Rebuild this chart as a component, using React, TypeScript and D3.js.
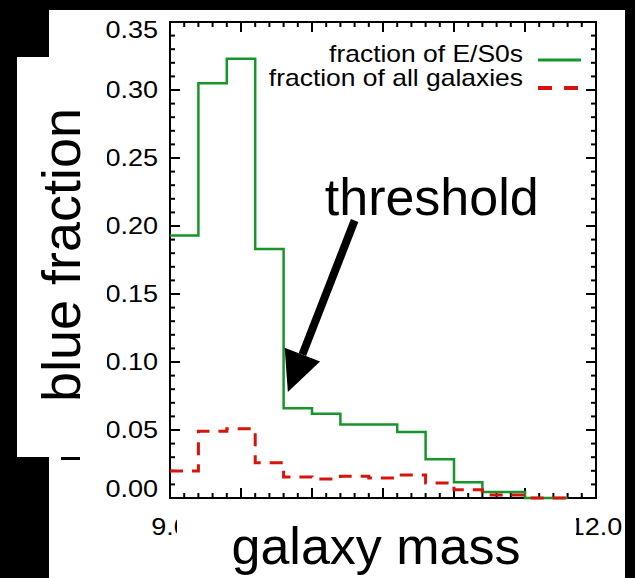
import * as d3 from 'd3';

// bin edges along galaxy mass (log M) and the two blue fractions per bin
const massEdges = [9.0, 9.2, 9.4, 9.6, 9.8, 10.0, 10.2, 10.4, 10.6, 10.8, 11.0, 11.2, 11.5, 11.8];
const esoFraction = [0.193, 0.305, 0.323, 0.183, 0.066, 0.062, 0.054, 0.054, 0.0485, 0.0285, 0.0115, 0.0045, 0];
const allFraction = [0.0199, 0.049, 0.051, 0.026, 0.0155, 0.014, 0.016, 0.0147, 0.017, 0.011, 0.006, 0.0022, 0];

const yTickValues = [0, 0.05, 0.1, 0.15, 0.2, 0.25, 0.3, 0.35];
// only the end labels survive under the "galaxy mass" box
const xTickLabels = [9.0, 12.0];
const legendLabels = ['fraction of E/S0s', 'fraction of all galaxies'];

// annotation: arrow from under "threshold" down to the drop at ~9.8
const arrowTail = { x: 10.3, y: 0.204 };
const arrowTip = { x: 9.83, y: 0.078 };
const annotationText = { x: 10.09, y: 0.208, label: 'threshold' };

const width = 635;
const height = 578;
const plot = { left: 170, right: 596, top: 22, bottom: 498 };

const GREEN = '#17952b';
const RED = '#d5140c';
const FONT = '"Liberation Sans", Arial, Helvetica, sans-serif';

type Pt = [number, number];

const stepPoints = (vals: number[]): Pt[] => {
  const pts: Pt[] = vals.map((v, i) => [massEdges[i], v]);
  pts.push([massEdges[massEdges.length - 1], vals[vals.length - 1]]);
  return pts;
};

export default function App() {
  const x = d3.scaleLinear().domain([9, 12]).range([plot.left, plot.right]);
  const y = d3.scaleLinear().domain([0, 0.35]).range([plot.bottom, plot.top]);

  const line = d3
    .line<Pt>()
    .x((d) => x(d[0]))
    .y((d) => y(d[1]))
    .curve(d3.curveStepAfter);

  const yMinor = d3.range(0, 0.3501, 0.01);
  const xMinor = d3.range(9, 12.001, 0.1);

  // arrow geometry
  const tx = x(arrowTail.x);
  const ty = y(arrowTail.y);
  const hx = x(arrowTip.x);
  const hy = y(arrowTip.y);
  const len = Math.hypot(hx - tx, hy - ty);
  const ux = (hx - tx) / len;
  const uy = (hy - ty) / len;
  const headLen = 40;
  const headHalf = 19;
  const bx = hx - ux * headLen;
  const by = hy - uy * headLen;
  const head = [
    [hx, hy],
    [bx - uy * headHalf, by + ux * headHalf],
    [bx + uy * headHalf, by - ux * headHalf],
  ]
    .map((p) => p.join(','))
    .join(' ');

  const stretch = 1.15;

  return (
    <svg
      width={width}
      height={height}
      style={{ position: 'absolute', left: 0, top: 0, display: 'block' }}
      fontFamily={FONT}
    >
      <rect width={width} height={height} fill="#000" />
      <rect x={49} y={10} width={576} height={height - 10} fill="#fff" />

      {/* axes frame and ticks */}
      <g stroke="#000" strokeWidth={2}>
        <rect
          x={plot.left}
          y={plot.top}
          width={plot.right - plot.left}
          height={plot.bottom - plot.top}
          fill="none"
        />
        {yMinor.map((v, i) => {
          const l = i % 5 === 0 ? 10 : 5;
          return (
            <g key={`y${i}`}>
              <line x1={plot.left} x2={plot.left + l} y1={y(v)} y2={y(v)} />
              <line x1={plot.right} x2={plot.right - l} y1={y(v)} y2={y(v)} />
            </g>
          );
        })}
        {xMinor.map((v, i) => {
          const l = i % 5 === 0 ? 10 : 5;
          return (
            <g key={`x${i}`}>
              <line x1={x(v)} x2={x(v)} y1={plot.bottom} y2={plot.bottom - l} />
              <line x1={x(v)} x2={x(v)} y1={plot.top} y2={plot.top + l} />
            </g>
          );
        })}
      </g>

      {/* y tick labels */}
      {yTickValues.map((v) => {
        const cy = Math.min(Math.max(y(v), plot.top + 8), plot.bottom - 9);
        return (
          <text
            key={v}
            transform={`translate(158,${cy}) scale(${stretch},1)`}
            textAnchor="end"
            dominantBaseline="central"
            fontSize={23.5}
          >
            {v.toFixed(2)}
          </text>
        );
      })}

      {/* x tick labels */}
      {xTickLabels.map((v) => (
        <text
          key={v}
          transform={`translate(${x(v)},535) scale(${stretch},1)`}
          textAnchor="middle"
          fontSize={23.5}
        >
          {v.toFixed(1)}
        </text>
      ))}

      {/* histograms */}
      <path d={line(stepPoints(esoFraction)) || ''} fill="none" stroke={GREEN} strokeWidth={2.5} />
      <path
        d={line(stepPoints(allFraction)) || ''}
        fill="none"
        stroke={RED}
        strokeWidth={3}
        strokeDasharray="13,9"
      />

      {/* legend */}
      {legendLabels.map((label, i) => (
        <g key={label}>
          <text
            transform={`translate(523,${62 + i * 24}) scale(${stretch},1)`}
            textAnchor="end"
            fontSize={23}
          >
            {label}
          </text>
          <line
            x1={538}
            x2={581}
            y1={60 + i * 28}
            y2={60 + i * 28}
            stroke={i === 0 ? GREEN : RED}
            strokeWidth={i === 0 ? 3 : 4}
            strokeDasharray={i === 0 ? undefined : '14,12'}
          />
        </g>
      ))}

      {/* threshold annotation */}
      <text x={x(annotationText.x)} y={y(annotationText.y)} fontSize={52}>
        {annotationText.label}
      </text>
      <line x1={tx} y1={ty} x2={bx} y2={by} stroke="#000" strokeWidth={8} />
      <polygon points={head} fill="#000" />

      {/* overlay boxes with the big axis titles */}
      <rect x={17} y={57} width={90} height={400} fill="#fff" />
      <rect x={61} y={457} width={19} height={3} fill="#000" />
      <text
        transform="translate(80,255) rotate(-90)"
        textAnchor="middle"
        fontSize={54}
      >
        blue fraction
      </text>
      <rect x={177} y={506} width={399} height={72} fill="#fff" />
      <text x={376} y={564} textAnchor="middle" fontSize={52}>
        galaxy mass
      </text>
    </svg>
  );
}
